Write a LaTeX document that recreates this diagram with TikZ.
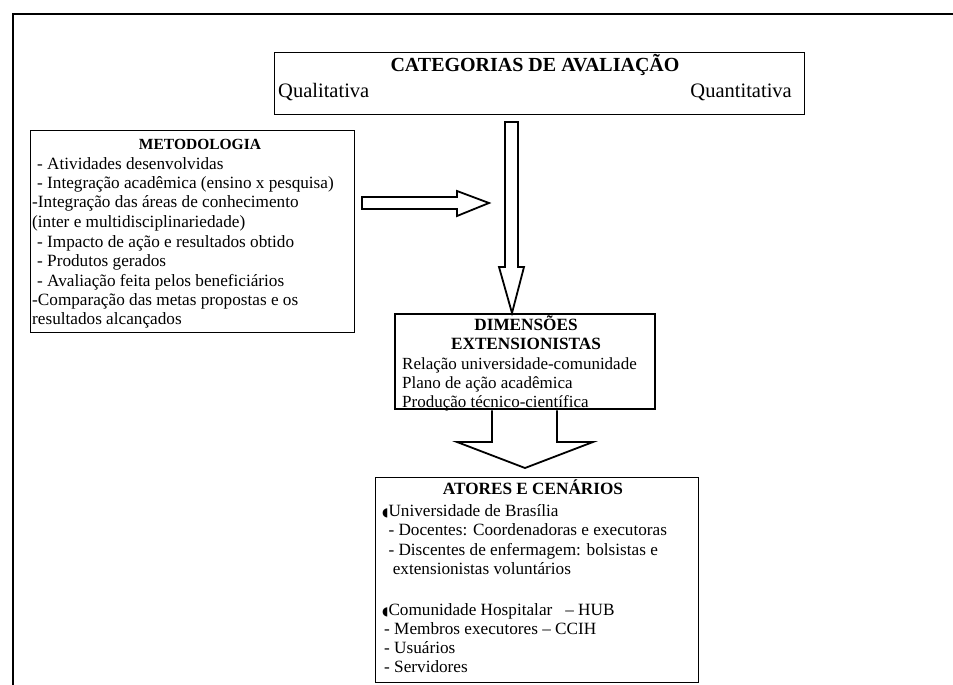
\documentclass[tikz,border=0pt]{standalone}
\usepackage{fontspec}
\setmainfont{Liberation Serif}
\newfontfamily\symfont{DejaVu Sans}
\begin{document}
\begin{tikzpicture}[x=1pt,y=-1pt,
  box/.style={draw=black, line width=1.3pt, inner sep=0pt, anchor=north west},
  txt/.style={inner sep=0pt, anchor=mid west, font=\fontsize{17.2}{19.4}\selectfont},
  ttl/.style={inner sep=0pt, anchor=mid, font=\fontsize{17.2}{19.4}\selectfont\bfseries},
  cattxt/.style={inner sep=0pt, font=\fontsize{20.5}{23}\selectfont},
  blockarrow/.style={draw=black, line width=1.8pt, fill=white, line join=miter}
]
\useasboundingbox (0,0) rectangle (953,685);
% outer frame
\coordinate (fl) at (13,685);
\coordinate (ftl) at (13,14);
\coordinate (fr) at (953,14);
\draw[line width=2.6pt] (fl) -- (ftl) -- (fr);

% Categorias
\node[box, line width=1.1pt, minimum width=530pt, minimum height=62pt] (cat) at (274,52) {};
\node[cattxt, anchor=base, font=\fontsize{20}{23}\selectfont\bfseries] (cattitle) at (535,71) {CATEGORIAS DE AVALIAÇÃO};
\node[cattxt, anchor=base west] (qual) at (278,97) {Qualitativa};
\node[cattxt, anchor=base east] (quant) at (792,97) {Quantitativa};

% Metodologia
\node[box, minimum width=324pt, minimum height=202pt] (met) at (30,130) {};
\node[ttl, font=\fontsize{15.5}{19.4}\selectfont\bfseries] (mettitle) at (200,147) {METODOLOGIA};
\node[txt] (m1) at (37,167) {- Atividades desenvolvidas};
\node[txt] (m2) at (37,186) {- Integração acadêmica (ensino x pesquisa)};
\node[txt] (m3) at (32,205) {-Integração das áreas de conhecimento};
\node[txt] (m4) at (32,225) {(inter e multidisciplinariedade)};
\node[txt] (m5) at (37,245) {- Impacto de ação e resultados obtido};
\node[txt] (m6) at (37,264) {- Produtos gerados};
\node[txt] (m7) at (37,284) {- Avaliação feita pelos beneficiários};
\node[txt] (m8) at (32,303) {-Comparação das metas propostas e os};
\node[txt] (m9) at (32,322) {resultados alcançados};

% Dimensoes
\node[box, line width=2.3pt, minimum width=260pt, minimum height=95pt] (dim) at (394,313) {};
\node[ttl] (dimt1) at (526,328) {DIMENSÕES};
\node[ttl] (dimt2) at (526,347) {EXTENSIONISTAS};
\node[txt, font=\fontsize{17}{19.4}\selectfont] (d1) at (402,367) {Relação universidade-comunidade};
\node[txt, font=\fontsize{17}{19.4}\selectfont] (d2) at (402,386) {Plano de ação acadêmica};
\node[txt, font=\fontsize{17}{19.4}\selectfont] (d3) at (402,405) {Produção técnico-científica};

% Atores
\node[box, minimum width=323pt, minimum height=205pt] (at) at (375,477) {};
\node[ttl] (att) at (533,492) {ATORES E CENÁRIOS};
\node[txt] (a1) at (382,514) {{\symfont\fontsize{12}{12}\selectfont ◖}Universidade de Brasília};
\node[txt] (a2) at (384,533) {\ - Docentes: Coordenadoras e executoras};
\node[txt] (a3) at (384,553) {\ - Discentes de enfermagem: bolsistas e};
\node[txt] (a4) at (384,572) {\ \ extensionistas voluntários};
\node[txt] (a5) at (382,613) {{\symfont\fontsize{12}{12}\selectfont ◖}Comunidade Hospitalar \ \ – HUB};
\node[txt] (a6) at (384,632) {- Membros executores – CCIH};
\node[txt] (a7) at (384,651) {- Usuários};
\node[txt] (a8) at (384,670) {- Servidores};

% horizontal arrow (from Metodologia towards the vertical arrow)
\draw[blockarrow] (362,197) -- (457,197) -- (457,191) -- (489,203) -- (457,216) -- (457,209) -- (362,209) -- cycle;
% vertical arrow (Categorias -> Dimensoes)
\draw[blockarrow] (505,122) -- (518,122) -- (518,267) -- (524,267) -- (512,313) -- (499,267) -- (505,267) -- cycle;
% bottom arrow (Dimensoes -> Atores)
\draw[blockarrow] (dim.south west -| 492,0) -- (492,442) -- (457,442) -- (525,468) -- (593,442) -- (557,442) -- (dim.south west -| 557,0);
\end{tikzpicture}
\end{document}
